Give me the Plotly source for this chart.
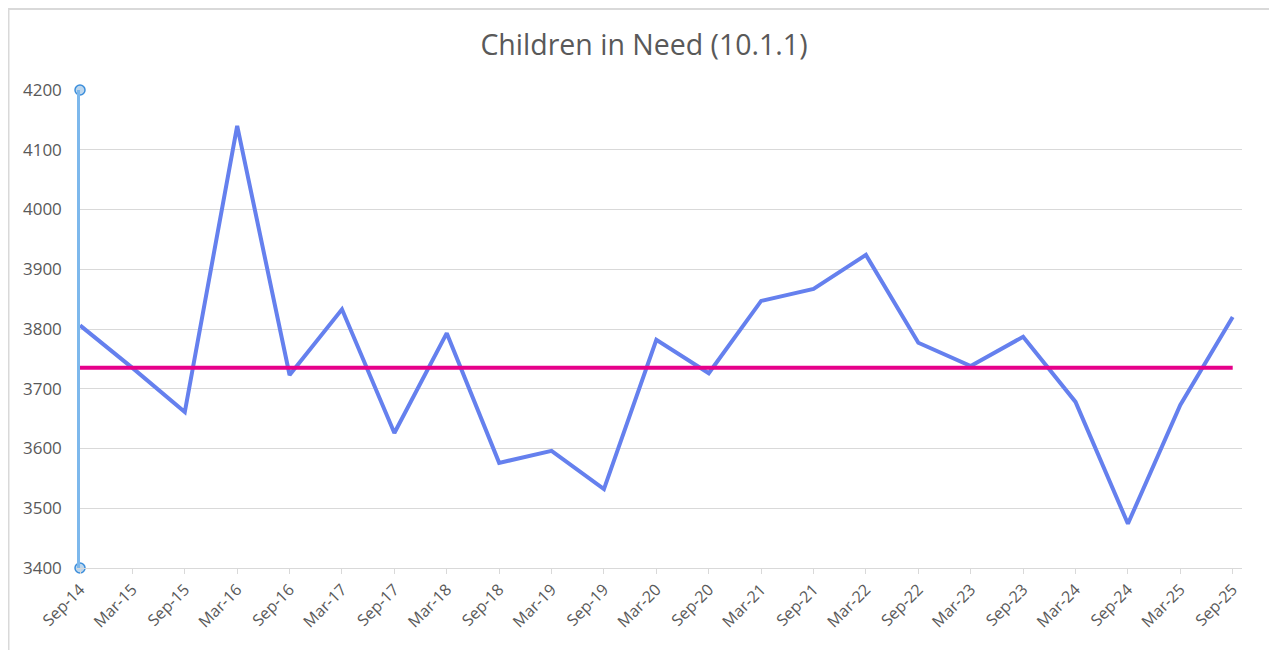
import plotly.graph_objects as go

periods = ["Sep-14", "Mar-15", "Sep-15", "Mar-16", "Sep-16", "Mar-17", "Sep-17", "Mar-18",
           "Sep-18", "Mar-19", "Sep-19", "Mar-20", "Sep-20", "Mar-21", "Sep-21", "Mar-22",
           "Sep-22", "Mar-23", "Sep-23", "Mar-24", "Sep-24", "Mar-25", "Sep-25"]
children_in_need = [3806, 3735, 3661, 4140, 3723, 3833, 3626, 3793,
                    3576, 3596, 3532, 3782, 3726, 3847, 3867, 3924,
                    3777, 3738, 3787, 3678, 3474, 3673, 3820]
mean_value = 3735
y_ticks = [3400, 3500, 3600, 3700, 3800, 3900, 4000, 4100, 4200]
y_range = [3400, 4200]

# the page body adds an 8px margin, so the figure is sized 8px smaller
W, H = 1269, 642
L, R, T, B = 72, 35, 82, 82
pw, ph = W - L - R, H - T - B

fig = go.Figure()

fig.add_trace(go.Scatter(
    x=periods, y=children_in_need, mode="lines",
    line=dict(color="#6580EE", width=4), name="Children in Need",
    hoverinfo="x+y"))

fig.add_trace(go.Scatter(
    x=periods, y=[mean_value] * len(periods), mode="lines",
    line=dict(color="#E6008A", width=4), name="Mean"))

# axis selection handles at the ends of the value axis
fig.add_trace(go.Scatter(
    x=[periods[0], periods[0]], y=y_range, mode="markers",
    marker=dict(size=10, color="#BDD7EE", line=dict(color="#3C8EDB", width=1.5)),
    cliponaxis=False, hoverinfo="skip"))

# outer chart frame
fig.add_shape(type="rect", xref="paper", yref="paper",
              x0=(0.5 - L) / pw, x1=(W + 20 - L) / pw,
              y0=-(B + 20) / ph, y1=(H - 1 - B) / ph,
              line=dict(color="#D9D9D9", width=2), layer="below")

fig.update_layout(
    width=W, height=H,
    margin=dict(l=L, r=R, t=T, b=B),
    paper_bgcolor="white", plot_bgcolor="white",
    showlegend=False,
    title=dict(text="Children in Need (10.1.1)", x=636 / W, xref="container",
               xanchor="center", y=1 - 37 / H, yanchor="middle",
               font=dict(family="Open Sans, sans-serif", size=28.5, color="#595959")),
    font=dict(family="Open Sans, sans-serif", color="#595959"),
)

fig.update_xaxes(
    type="category", range=[0, len(periods) - 1 + 9.3 / 52.4],
    tickangle=-45, tickfont=dict(size=16, color="#595959"),
    ticks="outside", ticklen=5, tickcolor="#D9D9D9", tickwidth=1,
    showgrid=False, showline=True, linecolor="#D9D9D9", linewidth=1,
    zeroline=False,
)
fig.update_yaxes(
    range=y_range, tickvals=y_ticks,
    tickfont=dict(size=17, color="#595959"),
    showgrid=True, gridcolor="#D9D9D9", gridwidth=1,
    showline=True, linecolor="#7DB8EC", linewidth=2.5,
    zeroline=False, ticks="", ticklabelstandoff=12,
)

fig.write_html("out.html")
